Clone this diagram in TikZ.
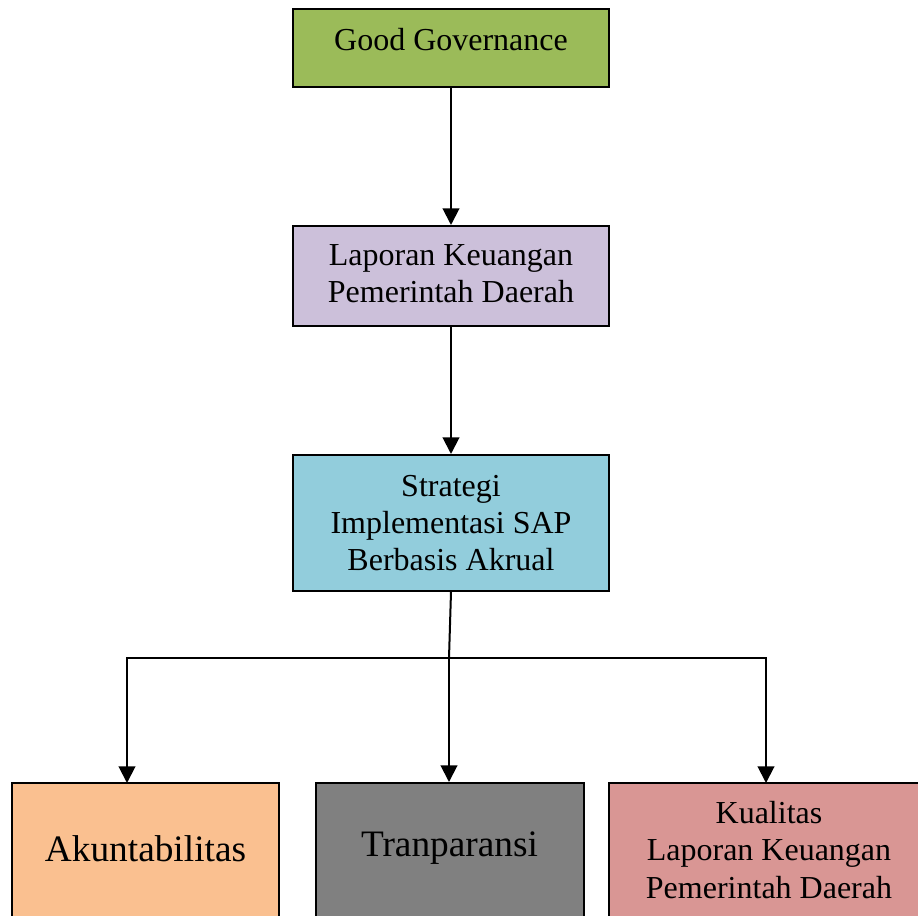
\documentclass[tikz,border=0pt]{standalone}
\usepackage{fontspec}
\setmainfont{Liberation Serif}
\usetikzlibrary{arrows.meta}
\definecolor{ggreen}{HTML}{9BBB59}
\definecolor{glav}{HTML}{CCC0DA}
\definecolor{gblue}{HTML}{92CDDC}
\definecolor{gorange}{HTML}{FAC090}
\definecolor{ggray}{HTML}{808080}
\definecolor{gpink}{HTML}{D99694}
\tikzset{
  boxnode/.style={draw=black, line width=1.5pt, inner sep=0pt, rectangle},
  txt/.style={align=center, inner sep=0pt, font=\fontsize{24}{28}\selectfont},
  bigtxt/.style={align=center, inner sep=0pt, font=\fontsize{28}{32}\selectfont},
  conn/.style={line width=1.5pt, -{Triangle[length=12.5pt,width=12.5pt]}},
  plain/.style={line width=1.5pt}
}
\begin{document}
\begin{tikzpicture}[x=0.75pt,y=-0.75pt]
\useasboundingbox (0,0) rectangle (918,916);
\clip (0,0) rectangle (918,916);
% boxes
\node[boxnode, fill=ggreen, minimum width=237pt, minimum height=58.5pt] (gg) at (451,48) {};
\node[boxnode, fill=glav, minimum width=237pt, minimum height=75pt] (lk) at (451,276) {};
\node[boxnode, fill=gblue, minimum width=237pt, minimum height=102pt] (st) at (451,523) {};
\node[boxnode, fill=gorange, minimum width=200.25pt, minimum height=150pt] (ak) at (145.5,883) {};
\node[boxnode, fill=ggray, minimum width=201pt, minimum height=150pt] (tr) at (449.5,883) {};
\node[boxnode, fill=gpink, minimum width=239pt, minimum height=150pt] (kl) at (768.5,883) {};
% texts
\node[txt] (tgg) at (451,40) {Good Governance};
\node[txt] (tlk) at (451,274) {Laporan Keuangan\\Pemerintah Daerah};
\node[txt] (tst) at (451,523) {Strategi\\Implementasi SAP\\Berbasis Akrual};
\node[bigtxt] (tak) at (145.5,849) {Akuntabilitas};
\node[bigtxt] (ttr) at (449.5,848) {Tranparansi};
\node[txt] (tkl) at (769,850) {Kualitas\\Laporan Keuangan\\Pemerintah Daerah};
% connectors
\coordinate (jn) at (449,658);
\draw[conn] (gg.south) -- (lk.north);
\draw[conn] (lk.south) -- (st.north);
\draw[plain] (st.south) -- (jn);
\draw[conn] (jn) -- (jn |- tr.north);
\draw[plain] (127,658) -- (766,658);
\draw[conn] (jn) -| (127,783);
\draw[conn] (jn) -| (766,783);
\end{tikzpicture}
\end{document}
